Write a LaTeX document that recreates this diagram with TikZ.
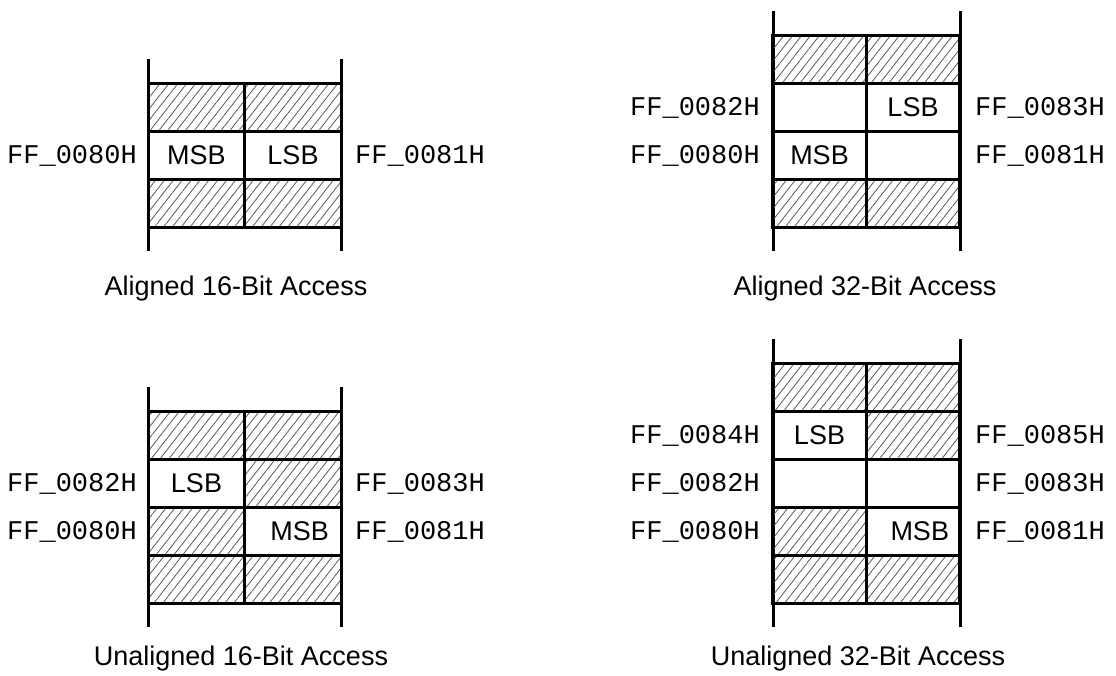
\documentclass[tikz,border=0pt]{standalone}
\usepackage{fontspec}
\setmainfont{Liberation Sans}
\newfontfamily\addrfont{Liberation Mono}
\usetikzlibrary{patterns.meta}

\tikzset{
  cell/.style={draw, line width=3pt, minimum width=96.5pt, minimum height=48pt,
    inner sep=0pt, font=\fontsize{27}{32}\selectfont},
  hatch/.style={cell, pattern={Lines[angle=52,distance=7pt,line width=0.8pt]},
    pattern color=black!65},
  rail/.style={line width=3pt},
  addr/.style={font=\addrfont\fontsize{27}{32}\selectfont, inner sep=0pt},
  caption/.style={font=\fontsize{27}{32}\selectfont, inner sep=0pt, anchor=base},
  shifted/.style={text width=72pt, align=right},
}

\begin{document}
\begin{tikzpicture}[x=1pt, y=-1pt]
  \useasboundingbox (0,0) rectangle (1116,675);

  % Aligned 16-Bit Access
  \draw[rail] (148,59) -- (148,251);
  \draw[rail] (341,59) -- (341,251);
  \node[hatch] (tlA1) at (196.5,107) {};
  \node[hatch] (tlB1) at (293,107) {};
  \node[cell]  (tlA2) at (196.5,155) {MSB};
  \node[cell]  (tlB2) at (293,155) {LSB};
  \node[hatch] (tlA3) at (196.5,203) {};
  \node[hatch] (tlB3) at (293,203) {};
  \node[addr, anchor=base east] (tl80) at (137,163) {FF\_0080H};
  \node[addr, anchor=base west] (tl81) at (355,163) {FF\_0081H};
  \node[caption] (tlcap) at (236,295) {Aligned 16-Bit Access};

  % Aligned 32-Bit Access
  \begin{scope}[cell/.append style={minimum width=93.5pt}]
    \draw[rail] (773,11) -- (773,251);
    \draw[rail] (960,11) -- (960,251);
    \node[hatch] (trA1) at (819.5,59) {};
    \node[hatch] (trB1) at (913,59) {};
    \node[cell]  (trA2) at (819.5,107) {};
    \node[cell]  (trB2) at (913,107) {LSB};
    \node[cell]  (trA3) at (819.5,155) {MSB};
    \node[cell]  (trB3) at (913,155) {};
    \node[hatch] (trA4) at (819.5,203) {};
    \node[hatch] (trB4) at (913,203) {};
    \node[addr, anchor=base east] (tr82) at (760,115) {FF\_0082H};
    \node[addr, anchor=base west] (tr83) at (975,115) {FF\_0083H};
    \node[addr, anchor=base east] (tr80) at (760,163) {FF\_0080H};
    \node[addr, anchor=base west] (tr81) at (975,163) {FF\_0081H};
    \node[caption] (trcap) at (865,295) {Aligned 32-Bit Access};
  \end{scope}

  % Unaligned 16-Bit Access
  \draw[rail] (148,387) -- (148,627);
  \draw[rail] (341,387) -- (341,627);
  \node[hatch] (blA1) at (196.5,435) {};
  \node[hatch] (blB1) at (293,435) {};
  \node[cell]  (blA2) at (196.5,483) {LSB};
  \node[hatch] (blB2) at (293,483) {};
  \node[hatch] (blA3) at (196.5,531) {};
  \node[cell, shifted] (blB3) at (293,531) {MSB};
  \node[hatch] (blA4) at (196.5,579) {};
  \node[hatch] (blB4) at (293,579) {};
  \node[addr, anchor=base east] (bl82) at (137,491) {FF\_0082H};
  \node[addr, anchor=base west] (bl83) at (355,491) {FF\_0083H};
  \node[addr, anchor=base east] (bl80) at (137,539) {FF\_0080H};
  \node[addr, anchor=base west] (bl81) at (355,539) {FF\_0081H};
  \node[caption] (blcap) at (241,665) {Unaligned 16-Bit Access};

  % Unaligned 32-Bit Access
  \begin{scope}[cell/.append style={minimum width=93.5pt}]
    \draw[rail] (773,339) -- (773,627);
    \draw[rail] (960,339) -- (960,627);
    \node[hatch] (brA1) at (819.5,387) {};
    \node[hatch] (brB1) at (913,387) {};
    \node[cell]  (brA2) at (819.5,435) {LSB};
    \node[hatch] (brB2) at (913,435) {};
    \node[cell]  (brA3) at (819.5,483) {};
    \node[cell]  (brB3) at (913,483) {};
    \node[hatch] (brA4) at (819.5,531) {};
    \node[cell, shifted] (brB4) at (913,531) {MSB};
    \node[hatch] (brA5) at (819.5,579) {};
    \node[hatch] (brB5) at (913,579) {};
    \node[addr, anchor=base east] (br84) at (760,443) {FF\_0084H};
    \node[addr, anchor=base west] (br85) at (975,443) {FF\_0085H};
    \node[addr, anchor=base east] (br82) at (760,491) {FF\_0082H};
    \node[addr, anchor=base west] (br83) at (975,491) {FF\_0083H};
    \node[addr, anchor=base east] (br80) at (760,539) {FF\_0080H};
    \node[addr, anchor=base west] (br81) at (975,539) {FF\_0081H};
    \node[caption] (brcap) at (858,665) {Unaligned 32-Bit Access};
  \end{scope}
\end{tikzpicture}
\end{document}
